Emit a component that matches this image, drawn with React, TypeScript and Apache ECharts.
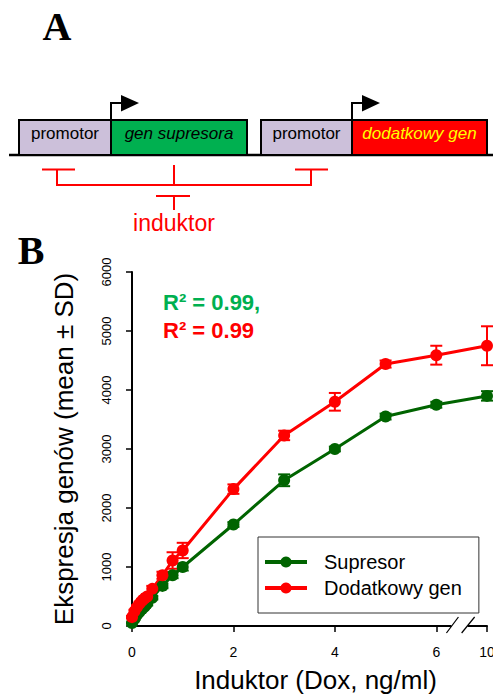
import React, { useEffect, useRef } from 'react';
import * as echarts from 'echarts';

// ---- data ----
const doses = [0, 0.05, 0.1, 0.15, 0.2, 0.25, 0.3, 0.4, 0.6, 0.8, 1, 2, 3, 4, 5, 6, 10];
const supresorMean = [50, 120, 190, 240, 290, 330, 380, 480, 680, 860, 1000, 1720, 2470, 3000, 3550, 3750, 3900];
const supresorSD = [10, 15, 20, 20, 20, 25, 30, 30, 40, 50, 60, 40, 100, 40, 50, 50, 80];
const dodatkowyMean = [150, 250, 320, 380, 430, 470, 500, 630, 860, 1110, 1280, 2320, 3230, 3800, 4440, 4590, 4750];
const dodatkowySD = [20, 25, 30, 30, 30, 35, 40, 50, 60, 140, 130, 80, 80, 150, 60, 160, 330];
const xTickDoses = [0, 2, 4, 6, 10];
const yMin = 0;
const yMax = 6000;
const yInterval = 1000;
const seriesNames = ['Supresor', 'Dodatkowy gen'];
const seriesColors = ['#006400', '#FF0000'];
const r2Values = ['0.99', '0.99'];

// broken x axis: 10 ng/ml is drawn one unit after 6
const BREAK_AFTER = 6;
const axisPos = (d: number) => (d <= BREAK_AFTER ? d : BREAK_AFTER + 1);
const axisLabelFor = (p: number) => {
  const idx = xTickDoses.findIndex((d) => axisPos(d) === p);
  return idx >= 0 ? String(xTickDoses[idx]) : '';
};

const SANS = '"Liberation Sans", Arial, sans-serif';
const SERIF = '"Liberation Serif", "Times New Roman", serif';

function diagram(): any[] {
  const black = '#000';
  const red = '#FF0000';
  const els: any[] = [];
  els.push({ type: 'text', style: { text: 'A', x: 57, y: 26, font: `bold 40px ${SERIF}`, fill: black, align: 'center', verticalAlign: 'middle' } });
  els.push({ type: 'text', style: { text: 'B', x: 31, y: 250, font: `bold 40px ${SERIF}`, fill: black, align: 'center', verticalAlign: 'middle' } });
  // baseline DNA
  els.push({ type: 'line', shape: { x1: 9, y1: 155, x2: 493, y2: 155 }, style: { stroke: black, lineWidth: 2.5 } });
  const boxes = [
    { x: 19, w: 92, fill: '#CCC0DA', text: 'promotor', color: black, italic: false },
    { x: 111, w: 136, fill: '#00B050', text: 'gen supresora', color: black, italic: true },
    { x: 261, w: 91, fill: '#CCC0DA', text: 'promotor', color: black, italic: false },
    { x: 352, w: 135, fill: '#FF0000', text: 'dodatkowy gen', color: '#FFFF00', italic: true },
  ];
  boxes.forEach((b) => {
    els.push({ type: 'rect', shape: { x: b.x, y: 120, width: b.w, height: 35 }, style: { fill: b.fill, stroke: black, lineWidth: 2 } });
    els.push({ type: 'text', style: { text: b.text, x: b.x + b.w / 2, y: 133, font: `${b.italic ? 'italic ' : ''}17px ${SANS}`, fill: b.color, align: 'center', verticalAlign: 'middle' } });
  });
  // promoter arrows
  [111, 352].forEach((ax) => {
    els.push({ type: 'polyline', shape: { points: [[ax, 120], [ax, 103], [ax + 11, 103]] }, style: { stroke: black, lineWidth: 2, fill: 'none' } });
    els.push({ type: 'polygon', shape: { points: [[ax + 10, 95], [ax + 28, 103], [ax + 10, 111.5]] }, style: { fill: black } });
  });
  // inhibition bracket
  const rs = { stroke: red, lineWidth: 2, fill: 'none' };
  els.push({ type: 'line', shape: { x1: 42, y1: 169.5, x2: 75, y2: 169.5 }, style: rs });
  els.push({ type: 'line', shape: { x1: 295, y1: 169.5, x2: 328, y2: 169.5 }, style: rs });
  els.push({ type: 'polyline', shape: { points: [[57, 169.5], [57, 185], [311, 185], [311, 169.5]] }, style: rs });
  els.push({ type: 'line', shape: { x1: 174, y1: 165, x2: 174, y2: 185 }, style: rs });
  els.push({ type: 'line', shape: { x1: 156, y1: 196, x2: 190, y2: 196 }, style: rs });
  els.push({ type: 'line', shape: { x1: 174, y1: 196, x2: 174, y2: 210 }, style: rs });
  els.push({ type: 'text', style: { text: 'induktor', x: 174, y: 223, font: `23px ${SANS}`, fill: red, align: 'center', verticalAlign: 'middle' } });
  // R^2 annotations
  els.push({ type: 'text', style: { text: `R² = ${r2Values[0]},`, x: 163, y: 302, font: `bold 22px ${SANS}`, fill: '#00B050', align: 'left', verticalAlign: 'middle' } });
  els.push({ type: 'text', style: { text: `R² = ${r2Values[1]}`, x: 163, y: 330, font: `bold 22px ${SANS}`, fill: '#FF0000', align: 'left', verticalAlign: 'middle' } });
  return els;
}

function errorSeries(name: string, means: number[], sds: number[], color: string) {
  return {
    type: 'custom',
    name: name + ' SD',
    z: 3,
    data: doses.map((d, i) => [axisPos(d), means[i], sds[i]]),
    encode: { x: 0, y: 1 },
    renderItem: (params: any, api: any) => {
      const x = api.value(0);
      const y = api.value(1);
      const sd = api.value(2);
      const top = api.coord([x, y + sd]);
      const bot = api.coord([x, y - sd]);
      const hw = 6;
      const st = { stroke: color, lineWidth: 2 };
      return {
        type: 'group',
        children: [
          { type: 'line', shape: { x1: top[0], y1: top[1], x2: bot[0], y2: bot[1] }, style: st },
          { type: 'line', shape: { x1: top[0] - hw, y1: top[1], x2: top[0] + hw, y2: top[1] }, style: st },
          { type: 'line', shape: { x1: bot[0] - hw, y1: bot[1], x2: bot[0] + hw, y2: bot[1] }, style: st },
        ],
      };
    },
  };
}

function lineSeries(name: string, means: number[], color: string) {
  return {
    type: 'line',
    name,
    z: 4,
    data: doses.map((d, i) => [axisPos(d), means[i]]),
    symbol: 'circle',
    symbolSize: 12,
    showSymbol: true,
    itemStyle: { color },
    lineStyle: { color, width: 3 },
  };
}

export default function App() {
  const ref = useRef<HTMLDivElement>(null);
  useEffect(() => {
    if (!ref.current) return;
    const chart = echarts.init(ref.current, undefined, { renderer: 'svg' });
    const tickPositions = xTickDoses.map(axisPos);
    const option: any = {
      animation: false,
      backgroundColor: '#fff',
      grid: { left: 132, right: 6, top: 272, bottom: 69, containLabel: false, outerBoundsMode: 'none' },
      xAxis: {
        type: 'value',
        min: 0,
        max: axisPos(xTickDoses[xTickDoses.length - 1]),
        name: 'Induktor (Dox, ng/ml)',
        nameLocation: 'middle',
        nameGap: 41,
        nameTextStyle: { fontSize: 26, fontFamily: SANS, color: '#000', padding: [0, 0, 0, 12] },
        axisLine: { show: true, onZero: false, lineStyle: { color: '#000', width: 2 } },
        axisTick: { show: true, length: 6, customValues: tickPositions, lineStyle: { color: '#000', width: 1.5 } },
        axisLabel: { customValues: tickPositions, formatter: (v: number) => axisLabelFor(v), fontSize: 14, fontFamily: SANS, color: '#000', margin: 19, hideOverlap: false },
        splitLine: { show: false },
      },
      yAxis: {
        type: 'value',
        min: yMin,
        max: yMax,
        interval: yInterval,
        name: 'Ekspresja genów (mean ± SD)',
        nameLocation: 'middle',
        nameGap: 55,
        nameTextStyle: { fontSize: 26, fontFamily: SANS, color: '#000' },
        axisLine: { show: true, lineStyle: { color: '#000', width: 2 } },
        axisTick: { show: true, length: 6, lineStyle: { color: '#000', width: 1.5 } },
        axisLabel: { rotate: 90, fontSize: 13, fontFamily: SANS, color: '#000', margin: 19, formatter: (v: number) => String(v) },
        splitLine: { show: false },
      },
      legend: {
        data: seriesNames,
        orient: 'vertical',
        left: 258,
        top: 537,
        padding: [15, 17, 15, 5],
        itemGap: 6,
        itemWidth: 42,
        itemHeight: 14,
        borderColor: '#333',
        borderWidth: 1,
        lineStyle: { width: 4 },
        textStyle: { fontSize: 20, fontFamily: SANS, color: '#000', padding: [0, 0, 0, 12] },
      },
      series: [
        errorSeries(seriesNames[0], supresorMean, supresorSD, seriesColors[0]),
        errorSeries(seriesNames[1], dodatkowyMean, dodatkowySD, seriesColors[1]),
        lineSeries(seriesNames[0], supresorMean, seriesColors[0]),
        lineSeries(seriesNames[1], dodatkowyMean, seriesColors[1]),
      ],
      graphic: diagram(),
    };
    chart.setOption(option);
    // axis break marks "//" between 6 and 10
    const p0 = chart.convertToPixel({ gridIndex: 0 }, [BREAK_AFTER + 0.2, 0]) as number[];
    const p1 = chart.convertToPixel({ gridIndex: 0 }, [BREAK_AFTER + 0.5, 0]) as number[];
    const brk: any[] = [
      { type: 'rect', shape: { x: p0[0] + 5, y: p0[1] - 3, width: p1[0] - p0[0] + 1, height: 6 }, style: { fill: '#fff' }, z: 100 },
      { type: 'line', shape: { x1: p0[0], y1: p0[1] + 7, x2: p0[0] + 12, y2: p0[1] - 9 }, style: { stroke: '#000', lineWidth: 1.2 }, z: 101 },
      { type: 'line', shape: { x1: p1[0], y1: p1[1] + 7, x2: p1[0] + 13, y2: p1[1] - 9 }, style: { stroke: '#000', lineWidth: 1.2 }, z: 101 },
    ];
    chart.setOption({ graphic: diagram().concat(brk) });
    return () => chart.dispose();
  }, []);
  return <div ref={ref} style={{ position: 'fixed', left: 0, top: 0, width: 493, height: 695 }} />;
}
